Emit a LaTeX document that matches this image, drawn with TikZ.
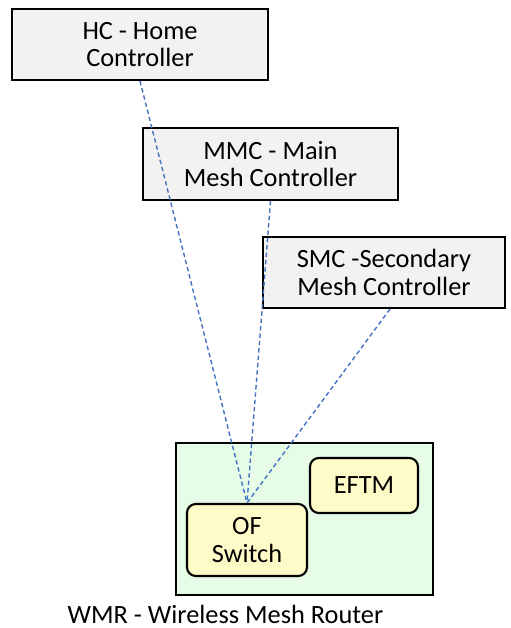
\documentclass[tikz,border=0pt]{standalone}
\usepackage{fontspec}
\setmainfont{Carlito}
\usepackage{tikz}
\usetikzlibrary{positioning,calc}

\definecolor{ctrlgray}{HTML}{F2F2F2}
\definecolor{routergreen}{HTML}{E6FCE6}
\definecolor{modyellow}{HTML}{FFFBC8}
\definecolor{linkblue}{HTML}{4472C4}

\tikzset{
  boxfont/.style={font=\fontsize{15}{15.7}\selectfont},
  ctrlbox/.style={draw=black, line width=1.2pt, fill=ctrlgray, align=center,
    boxfont, inner sep=0pt},
  modbox/.style={draw=black, line width=1.2pt, fill=modyellow, rounded corners=5pt,
    align=center, boxfont, inner sep=0pt},
  ctrllink/.style={draw=linkblue, dash pattern=on 2.5pt off 1.7pt, line width=0.8pt}
}

\begin{document}
\begin{tikzpicture}[x=0.02cm,y=-0.02cm]
    \useasboundingbox (0,0) rectangle (510,628);

    % controllers
    \node[ctrlbox, minimum width=256*0.02cm, minimum height=71*0.02cm] (hc) at (140,44.5) {HC - Home\\Controller};
    \node[ctrlbox, minimum width=255*0.02cm, minimum height=72*0.02cm] (mmc) at (270.5,164) {MMC - Main\\Mesh Controller};
    \node[ctrlbox, minimum width=242*0.02cm, minimum height=71*0.02cm] (smc) at (384,272.5) {SMC -Secondary\\Mesh Controller};

    % router with its modules
    \draw[line width=1.2pt, fill=routergreen] (176,443) rectangle (433,595);
    \node[modbox, minimum width=108*0.02cm, minimum height=55*0.02cm] (eftm) at (364,485.5) {EFTM};
    \node[modbox, minimum width=120*0.02cm, minimum height=72*0.02cm] (of) at (247,540) {OF\\Switch};
    \node[boxfont] (wmr) at (225.5,614) {WMR - Wireless Mesh Router};

    % control links
    \draw[ctrllink] (hc.south) -- (of.north);
    \draw[ctrllink] (mmc.south) -- (of.north);
    \draw[ctrllink] ($(smc.south)+(6,0)$) -- (of.north);
\end{tikzpicture}
\end{document}
